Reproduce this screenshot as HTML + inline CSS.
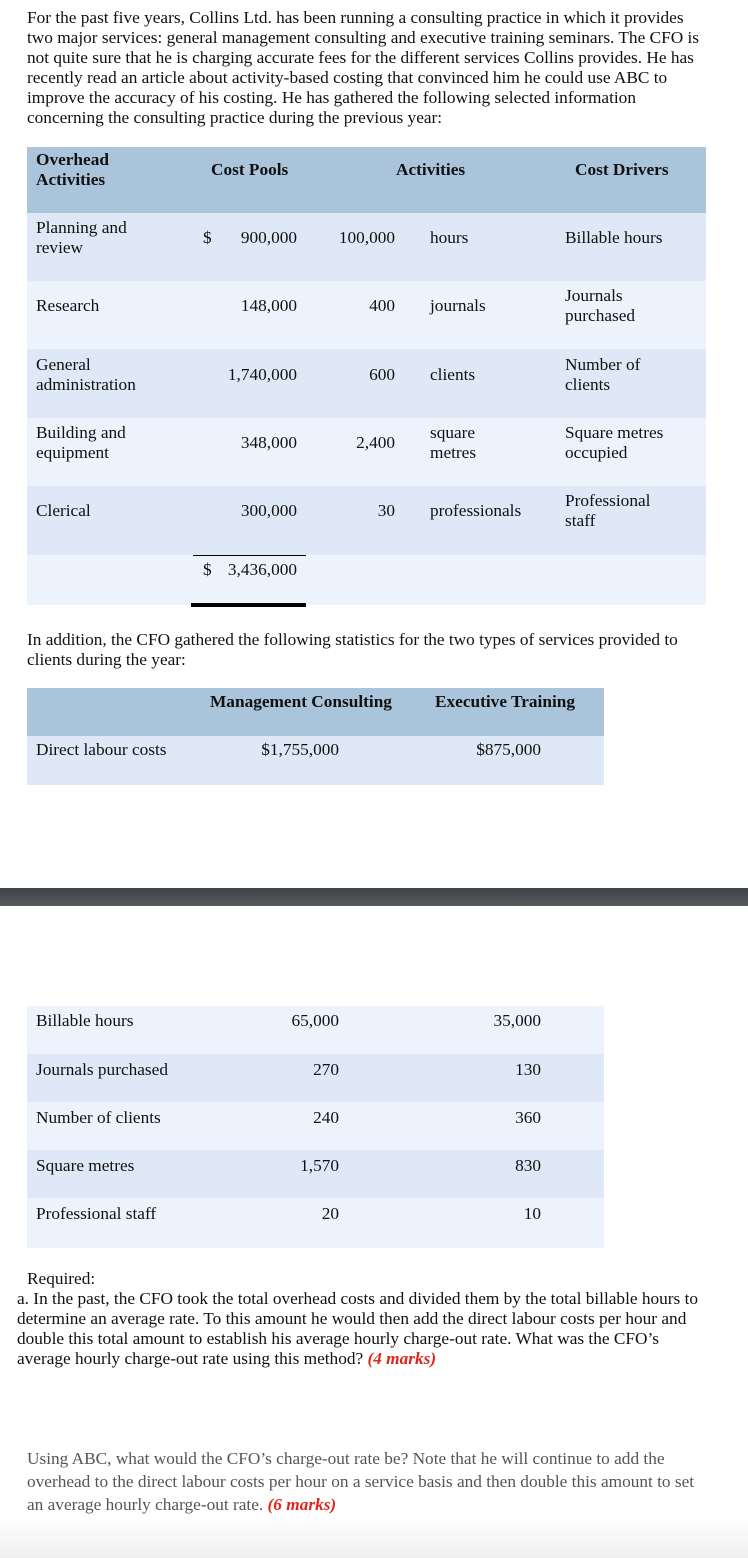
<!DOCTYPE html>
<html><head><meta charset="utf-8"><style>
body{margin:0;width:748px;height:1558px;position:relative;background:#fff;font-family:"Liberation Serif",serif;font-size:17.3px;color:#111;overflow:hidden}
.a{position:absolute;white-space:nowrap;line-height:20px}
.r{position:absolute;left:27px}
.b{font-weight:bold}
.rt{text-align:right}
.red{color:#e0261c;font-weight:bold;font-style:italic}
</style></head><body>
<div class="a" style="left:27px;top:8px;line-height:20px">For the past five years, Collins Ltd. has been running a consulting practice in which it provides<br>two major services: general management consulting and executive training seminars. The CFO is<br>not quite sure that he is charging accurate fees for the different services Collins provides. He has<br>recently read an article about activity-based costing that convinced him he could use ABC to<br>improve the accuracy of his costing. He has gathered the following selected information<br>concerning the consulting practice during the previous year:</div>

<div class="r" style="top:147px;width:679px;height:66px;background:#aac4dc"></div>
<div class="r" style="top:213px;width:679px;height:68px;background:#dfe8f6"></div>
<div class="r" style="top:281px;width:679px;height:68px;background:#ecf3fd"></div>
<div class="r" style="top:349px;width:679px;height:69px;background:#dfe8f6"></div>
<div class="r" style="top:418px;width:679px;height:68px;background:#ecf3fd"></div>
<div class="r" style="top:486px;width:679px;height:69px;background:#dfe8f6"></div>
<div class="r" style="top:555px;width:679px;height:50px;background:#ecf3fd"></div>
<div style="position:absolute;left:193px;top:555px;width:113px;height:1px;background:#000"></div>
<div style="position:absolute;left:191px;top:603px;width:115px;height:4px;background:#000"></div>

<div class="a b" style="left:36px;top:150px">Overhead<br>Activities</div>
<div class="a b" style="left:211px;top:160px">Cost Pools</div>
<div class="a b" style="left:396px;top:160px">Activities</div>
<div class="a b" style="left:575px;top:160px">Cost Drivers</div>

<div class="a" style="left:36px;top:218px">Planning and<br>review</div>
<div class="a" style="left:203px;top:228px">$</div>
<div class="a rt" style="left:217px;width:80px;top:228px">900,000</div>
<div class="a rt" style="left:305px;width:90px;top:228px">100,000</div>
<div class="a" style="left:430px;top:228px">hours</div>
<div class="a" style="left:565px;top:228px">Billable hours</div>

<div class="a" style="left:36px;top:296px">Research</div>
<div class="a rt" style="left:217px;width:80px;top:296px">148,000</div>
<div class="a rt" style="left:315px;width:80px;top:296px">400</div>
<div class="a" style="left:430px;top:296px">journals</div>
<div class="a" style="left:565px;top:286px">Journals<br>purchased</div>

<div class="a" style="left:36px;top:355px">General<br>administration</div>
<div class="a rt" style="left:207px;width:90px;top:365px">1,740,000</div>
<div class="a rt" style="left:315px;width:80px;top:365px">600</div>
<div class="a" style="left:430px;top:365px">clients</div>
<div class="a" style="left:565px;top:355px">Number of<br>clients</div>

<div class="a" style="left:36px;top:423px">Building and<br>equipment</div>
<div class="a rt" style="left:217px;width:80px;top:433px">348,000</div>
<div class="a rt" style="left:315px;width:80px;top:433px">2,400</div>
<div class="a" style="left:430px;top:423px">square<br>metres</div>
<div class="a" style="left:565px;top:423px">Square metres<br>occupied</div>

<div class="a" style="left:36px;top:501px">Clerical</div>
<div class="a rt" style="left:217px;width:80px;top:501px">300,000</div>
<div class="a rt" style="left:315px;width:80px;top:501px">30</div>
<div class="a" style="left:430px;top:501px">professionals</div>
<div class="a" style="left:565px;top:491px">Professional<br>staff</div>

<div class="a" style="left:203px;top:560px">$</div>
<div class="a rt" style="left:207px;width:90px;top:560px">3,436,000</div>

<div class="a" style="left:27px;top:630px">In addition, the CFO gathered the following statistics for the two types of services provided to<br>clients during the year:</div>

<div class="r" style="top:688px;width:577px;height:48px;background:#aac4dc"></div>
<div class="r" style="top:736px;width:577px;height:49px;background:#dfe8f6"></div>
<div class="a b" style="left:210px;top:692px">Management Consulting</div>
<div class="a b" style="left:435px;top:692px">Executive Training</div>
<div class="a" style="left:36px;top:740px">Direct labour costs</div>
<div class="a rt" style="left:239px;width:100px;top:740px">$1,755,000</div>
<div class="a rt" style="left:441px;width:100px;top:740px">$875,000</div>

<div style="position:absolute;left:0;top:888px;width:748px;height:18px;background:linear-gradient(#3f4346,#575b5e)"></div>

<div class="r" style="top:1006px;width:577px;height:48px;background:#ecf3fd"></div>
<div class="r" style="top:1054px;width:577px;height:48px;background:#dfe8f6"></div>
<div class="r" style="top:1102px;width:577px;height:48px;background:#ecf3fd"></div>
<div class="r" style="top:1150px;width:577px;height:48px;background:#dfe8f6"></div>
<div class="r" style="top:1198px;width:577px;height:50px;background:#ecf3fd"></div>

<div class="a" style="left:36px;top:1011px">Billable hours</div>
<div class="a rt" style="left:239px;width:100px;top:1011px">65,000</div>
<div class="a rt" style="left:441px;width:100px;top:1011px">35,000</div>
<div class="a" style="left:36px;top:1060px">Journals purchased</div>
<div class="a rt" style="left:239px;width:100px;top:1060px">270</div>
<div class="a rt" style="left:441px;width:100px;top:1060px">130</div>
<div class="a" style="left:36px;top:1108px">Number of clients</div>
<div class="a rt" style="left:239px;width:100px;top:1108px">240</div>
<div class="a rt" style="left:441px;width:100px;top:1108px">360</div>
<div class="a" style="left:36px;top:1156px">Square metres</div>
<div class="a rt" style="left:239px;width:100px;top:1156px">1,570</div>
<div class="a rt" style="left:441px;width:100px;top:1156px">830</div>
<div class="a" style="left:36px;top:1204px">Professional staff</div>
<div class="a rt" style="left:239px;width:100px;top:1204px">20</div>
<div class="a rt" style="left:441px;width:100px;top:1204px">10</div>

<div style="position:absolute;left:0;top:1515px;width:748px;height:43px;background:linear-gradient(#fff,#f0f0f0)"></div>
<div class="a" style="left:27px;top:1269px">Required:</div>
<div class="a" style="left:17px;top:1289px">a. In the past, the CFO took the total overhead costs and divided them by the total billable hours to<br>determine an average rate. To this amount he would then add the direct labour costs per hour and<br>double this total amount to establish his average hourly charge-out rate. What was the CFO’s<br>average hourly charge-out rate using this method? <span class="red">(4 marks)</span></div>

<div class="a" style="left:27px;top:1447px;line-height:23px;color:#555">Using ABC, what would the CFO’s charge-out rate be? Note that he will continue to add the<br>overhead to the direct labour costs per hour on a service basis and then double this amount to set<br>an average hourly charge-out rate. <span class="red">(6 marks)</span></div>
</body></html>
